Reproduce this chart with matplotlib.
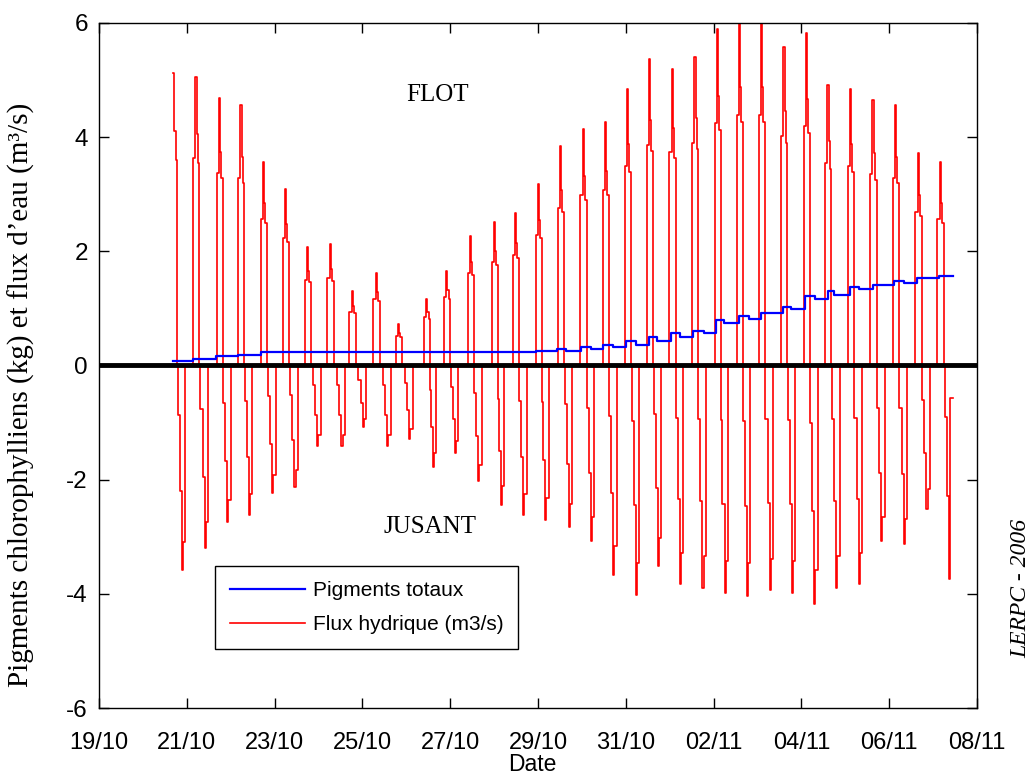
import numpy as np
import matplotlib
matplotlib.use('Agg')
import matplotlib.pyplot as plt
import matplotlib.dates as mdates
from datetime import datetime

# Flux hydrique : un pic de flot et un pic de jusant par marée
# (jours comptés depuis le 19/10 à 0h)
jours_flot = [1.710, 2.212, 2.743, 3.238, 3.747, 4.249, 4.750, 5.268, 5.770, 6.317,
              6.826, 7.473, 7.929, 8.461, 9.008, 9.487, 10.018, 10.513, 11.031, 11.540,
              12.048, 12.550, 13.060, 13.580, 14.087, 14.595, 15.097, 15.606, 16.116, 16.609,
              17.127, 17.635, 18.146, 18.661, 19.163]
pic_flot = [5.13, 5.06, 4.68, 4.57, 3.56, 3.10, 2.08, 2.12, 1.31, 1.62,
            0.72, 1.17, 1.66, 2.26, 2.51, 2.68, 3.18, 3.84, 4.15, 4.26,
            4.85, 5.37, 5.20, 5.41, 5.90, 6.10, 6.10, 5.58, 5.83, 4.92,
            4.85, 4.65, 4.57, 3.73, 3.56]
jours_jusant = [1.900, 2.417, 2.935, 3.428, 3.961, 4.463, 4.978, 5.535, 6.014, 6.575,
                7.076, 7.610, 8.119, 8.650, 9.168, 9.676, 10.178, 10.712, 11.213, 11.722,
                12.239, 12.741, 13.243, 13.758, 14.260, 14.771, 15.286, 15.797, 16.306, 16.807,
                17.316, 17.826, 18.342, 18.860, 19.368]
pic_jusant = [-3.59, -3.19, -2.74, -2.62, -2.24, -2.13, -1.41, -1.41, -1.08, -1.41,
              -1.29, -1.78, -1.54, -2.03, -2.45, -2.62, -2.70, -2.83, -3.08, -3.67,
              -4.02, -3.52, -3.82, -3.89, -3.99, -4.03, -3.94, -3.99, -4.17, -3.89,
              -3.82, -3.08, -3.12, -2.52, -3.74]
fin_jour = 19.46
fin_val = -0.57

# Pigments totaux (cumul), paliers
jours_pigm = [1.688, 2.150, 2.668, 3.154, 3.688, 9.943, 10.438, 10.627, 10.969, 11.213,
              11.487, 11.715, 11.995, 12.223, 12.527, 12.702, 13.038, 13.234, 13.539, 13.774,
              14.048, 14.237, 14.579, 14.807, 15.074, 15.569, 15.758, 16.077, 16.306, 16.609,
              16.746, 17.111, 17.316, 17.621, 18.114, 18.342, 18.632, 19.140, 19.460]
val_pigm = [0.07, 0.12, 0.16, 0.19, 0.23, 0.26, 0.29, 0.26, 0.32, 0.29,
            0.36, 0.32, 0.43, 0.36, 0.50, 0.43, 0.57, 0.50, 0.61, 0.57,
            0.79, 0.75, 0.86, 0.82, 0.92, 1.03, 0.99, 1.22, 1.17, 1.30,
            1.24, 1.38, 1.34, 1.41, 1.48, 1.45, 1.53, 1.56, 1.56]

dates_ticks = ['19/10', '21/10', '23/10', '25/10', '27/10', '29/10',
               '31/10', '02/11', '04/11', '06/11', '08/11']

# courbe en escalier (pas d'environ une heure)
h = 1 / 24
t_flux, v_flux = [], []
n = len(jours_flot)
for i in range(n):
    tp, P = jours_flot[i], pic_flot[i]
    tt, T = jours_jusant[i], pic_jusant[i]
    if i > 0:
        t_flux += [tp - 1.6 * h]
        v_flux += [0.72 * P]
    t_flux += [tp - 0.4 * h, tp + 0.2 * h, tp + 0.8 * h, tp + 1.8 * h,
               tt - 2.6 * h, tt - 1.4 * h, tt - 0.3 * h]
    v_flux += [P, 0.8 * P, 0.7 * P, 0.0, 0.24 * T, 0.61 * T, T]
    if i < n - 1:
        t_flux += [tt + 0.3 * h, tt + 1.6 * h]
        v_flux += [0.86 * T, 0.0]
    else:
        t_flux += [tt + 0.4 * h, fin_jour]
        v_flux += [fin_val, fin_val]
t_flux = np.maximum.accumulate(np.array(t_flux))

t0 = mdates.date2num(datetime(2005, 10, 19))
x_flux = t0 + t_flux
x_pigm = t0 + np.array(jours_pigm)

sans = ['Liberation Sans', 'DejaVu Sans']
serif = ['Liberation Serif', 'DejaVu Serif']

fig = plt.figure(figsize=(10.35, 7.76), dpi=100)
ax = fig.add_axes([0.0957, 0.0876, 0.8483, 0.8828])

l1, = ax.plot(x_pigm, val_pigm, color='blue', lw=1.6, drawstyle='steps-post',
              label='Pigments totaux', zorder=3)
l2, = ax.plot(x_flux, v_flux, color='red', lw=1.2, drawstyle='steps-post',
              label='Flux hydrique (m3/s)', zorder=2)
ax.axhline(0, color='black', lw=3.5, zorder=4)

ax.set_xlim(t0, t0 + 20)
ax.set_ylim(-6, 6)
ax.set_xticks([t0 + 2 * k for k in range(11)])
ax.set_xticklabels(dates_ticks, family=sans, fontsize=17)
ax.set_yticks(np.arange(-6, 7, 2))
ax.set_yticklabels([str(v) for v in range(-6, 7, 2)], family=sans, fontsize=17.5)
ax.tick_params(direction='in', top=True, right=True, length=7, width=1)
ax.tick_params(axis='x', pad=17)
ax.tick_params(axis='y', pad=8)
for s in ax.spines.values():
    s.set_linewidth(1.0)

fig.text(0.514, 0.0064, 'Date', family=sans, fontsize=16.5, ha='center', va='baseline')
fig.text(0.021, 0.491, 'Pigments chlorophylliens (kg) et flux d\u2019eau (m\u00b3/s)',
         family=serif, fontsize=21, rotation=90, ha='center', va='center')

ax.text(0.385, 0.895, 'FLOT', transform=ax.transAxes, family=serif, fontsize=18,
        ha='center', va='center')
ax.text(0.377, 0.264, 'JUSANT', transform=ax.transAxes, family=serif, fontsize=18,
        ha='center', va='center')
fig.text(0.986, 0.242, 'LERPC - 2006', rotation=90, family=serif, style='italic',
         fontsize=17, ha='center', va='center')

leg = ax.legend(handles=[l1, l2], loc='upper left', bbox_to_anchor=(0.132, 0.207),
                prop={'family': sans, 'size': 15}, fancybox=False, framealpha=1,
                edgecolor='black', handlelength=3.6, borderpad=0.7,
                labelspacing=0.75, handletextpad=0.4, borderaxespad=0)
leg.get_frame().set_linewidth(1.0)

fig.savefig('out.png', dpi=100)
